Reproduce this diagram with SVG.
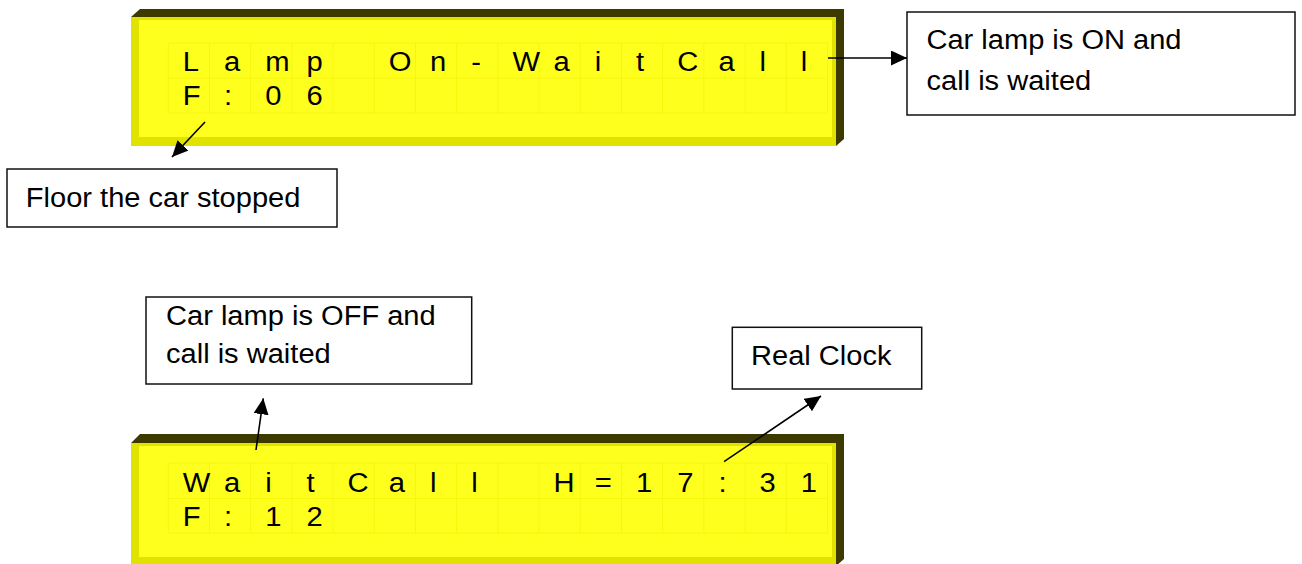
<svg xmlns="http://www.w3.org/2000/svg" width="1302" height="564" viewBox="0 0 1302 564">
<defs>
<style>
.dark{fill:#3D3A00}
.outer{fill:#E2E200}
.inner{fill:#FFFF1E}
.grid{fill:none;stroke:#F6F60C;stroke-width:1}
.lcd{font-family:"Liberation Sans",Arial,sans-serif;font-size:27px;fill:#000}
.box{fill:#fff;stroke:#111;stroke-width:1.5}
.lbl{font-family:"Liberation Sans",Arial,sans-serif;font-size:27px;fill:#000}
.conn{fill:none;stroke:#000;stroke-width:1.6}
</style>
<marker id="arr" markerUnits="userSpaceOnUse" markerWidth="18" markerHeight="16" refX="16" refY="7.5" orient="auto">
<path d="M0,0 L16,7.5 L0,15 z" fill="#000"/>
</marker>
</defs>
<rect width="1302" height="564" fill="#fff"/>

<g id="lcd-top">
<polygon class="dark" points="131,17 140,9 844,9 844,139 836,146 836,17"/>
<rect class="outer" x="131" y="17" width="705" height="129"/>
<rect class="inner" x="139" y="20" width="693" height="117"/>
<path class="grid" d="M168.3,43H827.7M168.3,78H827.7M168.3,113H827.7M168.3,43V113M209.5,43V113M250.7,43V113M291.9,43V113M333.1,43V113M374.3,43V113M415.5,43V113M456.7,43V113M497.9,43V113M539.1,43V113M580.3,43V113M621.5,43V113M662.7,43V113M703.9,43V113M745.1,43V113M786.3,43V113M827.5,43V113"/>
<g transform="scale(1.08,1)">
<text class="lcd" x="169.26 207.41 245.56 283.7 321.85 360.0 398.15 436.3 474.44 512.59 550.74 588.89 627.04 665.19 703.33 741.48" y="70.7" xml:space="preserve">Lamp On-WaitCall</text>
<text class="lcd" x="169.26 207.41 245.56 283.7" y="105">F:06</text>
</g>
</g>

<g id="lcd-bottom">
<polygon class="dark" points="131,443 140,434 844,434 844,559 836,566 836,443"/>
<rect class="outer" x="131" y="443" width="705" height="123"/>
<rect class="inner" x="139" y="446" width="693" height="111"/>
<path class="grid" d="M168.3,463H827.7M168.3,498.5H827.7M168.3,533H827.7M168.3,463V533M209.5,463V533M250.7,463V533M291.9,463V533M333.1,463V533M374.3,463V533M415.5,463V533M456.7,463V533M497.9,463V533M539.1,463V533M580.3,463V533M621.5,463V533M662.7,463V533M703.9,463V533M745.1,463V533M786.3,463V533M827.5,463V533"/>
<g transform="scale(1.08,1)">
<text class="lcd" x="169.26 207.41 245.56 283.7 321.85 360.0 398.15 436.3 474.44 512.59 550.74 588.89 627.04 665.19 703.33 741.48" y="491.7" xml:space="preserve">WaitCall H=17:31</text>
<text class="lcd" x="169.26 207.41 245.56 283.7" y="526">F:12</text>
</g>
</g>

<g id="callout-on">
<rect class="box" x="907" y="12" width="388" height="103"/>
<text class="lbl" x="926.5" y="49.3" textLength="255" lengthAdjust="spacingAndGlyphs">Car lamp is ON and</text>
<text class="lbl" x="926.5" y="89.5" textLength="164.7" lengthAdjust="spacingAndGlyphs">call is waited</text>
</g>

<g id="callout-floor">
<rect class="box" x="7" y="169" width="330" height="58"/>
<text class="lbl" x="25.8" y="207.3" textLength="274.6" lengthAdjust="spacingAndGlyphs">Floor the car stopped</text>
</g>

<g id="callout-off">
<rect class="box" x="146" y="297" width="325.7" height="87"/>
<text class="lbl" x="166" y="325" textLength="269.7" lengthAdjust="spacingAndGlyphs">Car lamp is OFF and</text>
<text class="lbl" x="166" y="362.7" textLength="164.7" lengthAdjust="spacingAndGlyphs">call is waited</text>
</g>

<g id="callout-clock">
<rect class="box" x="732.3" y="327.3" width="189.4" height="61.7"/>
<text class="lbl" x="751" y="365" textLength="140.5" lengthAdjust="spacingAndGlyphs">Real Clock</text>
</g>

<g id="connectors">
<line class="conn" x1="205" y1="122" x2="172" y2="157" marker-end="url(#arr)"/>
<line class="conn" x1="828" y1="58" x2="907" y2="58" marker-end="url(#arr)"/>
<line class="conn" x1="256" y1="450" x2="263.3" y2="398.3" marker-end="url(#arr)"/>
<line class="conn" x1="724" y1="461.7" x2="821" y2="396" marker-end="url(#arr)"/>
</g>
</svg>
